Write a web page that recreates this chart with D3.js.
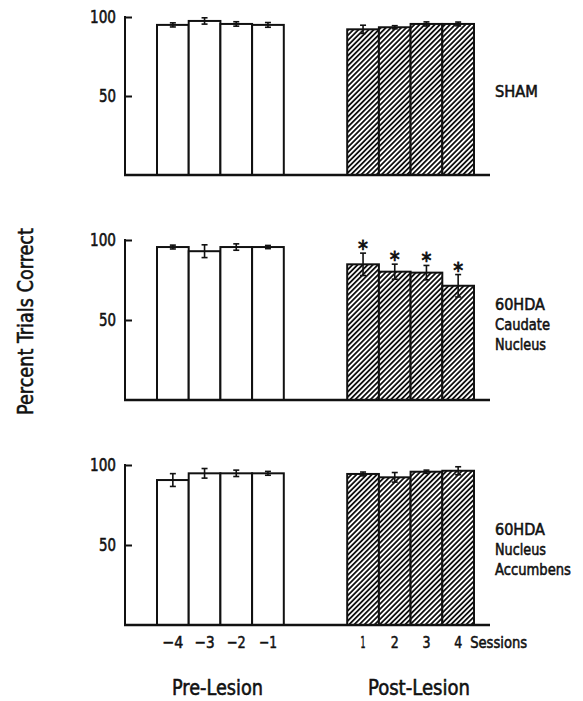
<!DOCTYPE html>
<html>
<head>
<meta charset="utf-8">
<script src="https://cdn.jsdelivr.net/npm/d3@7"></script>
<style>
  html, body { margin: 0; padding: 0; background: #fff; }
  svg text { font-family: "DejaVu Sans Condensed", "Liberation Sans", sans-serif; fill: #111; stroke: #111; stroke-width: 0.55px; }
</style>
</head>
<body>
<div id="chart"></div>
<script>
// sessions on the x axis (two empty slots between pre and post)
const preSessions = ["−4", "−3", "−2", "−1"];
const postSessions = ["1", "2", "3", "4"];
const gapSlots = ["gap1", "gap2"];

const groupLabelLines = [["SHAM"], ["60HDA", "Caudate", "Nucleus"], ["60HDA", "Nucleus", "Accumbens"]];

// percent trials correct, mean and error
const shamPre = [95, 97.5, 95.6, 95];
const shamPreErr = [1.3, 2, 1.4, 1.5];
const shamPost = [92.2, 93.5, 95.6, 95.6];
const shamPostErr = [2.6, 1, 1.3, 1.2];

const caudatePre = [95.6, 93, 95.6, 95.6];
const caudatePreErr = [1.2, 4, 2, 1];
const caudatePost = [84.8, 80.2, 79.6, 71.4];
const caudatePostErr = [7, 4.7, 4.5, 7];
const caudateStars = [true, true, true, true];

const accPre = [90.6, 94.8, 94.8, 94.8];
const accPreErr = [4, 3, 2, 1.2];
const accPost = [94.4, 92.3, 95.8, 96.4];
const accPostErr = [1.2, 3, 1, 2.5];

const yTicks = [50, 100];

const panels = [
  { pre: shamPre, preErr: shamPreErr, post: shamPost, postErr: shamPostErr, stars: null },
  { pre: caudatePre, preErr: caudatePreErr, post: caudatePost, postErr: caudatePostErr, stars: caudateStars },
  { pre: accPre, preErr: accPreErr, post: accPost, postErr: accPostErr, stars: null }
];

const width = 583, height = 701;
const svg = d3.select("#chart").append("svg").attr("width", width).attr("height", height);

// the original face is a narrow grotesque: squeeze each text horizontally to its width
function fit(sel, w, base) {
  const node = sel.node();
  const tx = +sel.attr("x") || 0;
  const ty = +sel.attr("y") || 0;
  const sx = Math.min(1, w / node.getComputedTextLength());
  sel.attr("x", 0).attr("y", 0)
    .attr("transform", `${base || ""} translate(${tx},${ty}) scale(${sx},1)`);
}
const labelWidth = { "SHAM": 43, "60HDA": 50, "Caudate": 55, "Nucleus": 51, "Accumbens": 76 };
const tickWidth = { "100": 26, "50": 17, "−4": 21, "−3": 20, "−2": 19, "−1": 18, "1": 5, "2": 8, "3": 8, "4": 8 };

// hatch for post-lesion bars
const defs = svg.append("defs");
const pat = defs.append("pattern")
  .attr("id", "hatch")
  .attr("patternUnits", "userSpaceOnUse")
  .attr("width", 3.6).attr("height", 8)
  .attr("patternTransform", "rotate(45)");
pat.append("rect").attr("width", 3.6).attr("height", 8).attr("fill", "#fff");
pat.append("line").attr("x1", 0.9).attr("x2", 0.9).attr("y1", 0).attr("y2", 8)
  .attr("stroke", "#111").attr("stroke-width", 1.8);

const axisX = 125, baseRight = 490;
const x = d3.scaleBand()
  .domain([...preSessions, ...gapSlots, ...postSessions])
  .range([157, 474])
  .padding(0);

const panelBase = [175, 400, 625];
const panelTop = [17, 240, 465];

panels.forEach((p, i) => {
  const y = d3.scaleLinear().domain([0, 100]).range([panelBase[i], panelTop[i]]);
  const g = svg.append("g");

  const rows = [
    ...preSessions.map((s, k) => ({ s, v: p.pre[k], e: p.preErr[k], post: false, star: false })),
    ...postSessions.map((s, k) => ({ s, v: p.post[k], e: p.postErr[k], post: true, star: p.stars ? p.stars[k] : false }))
  ];

  g.selectAll("rect.bar")
    .data(rows)
    .enter().append("rect")
    .attr("class", "bar")
    .attr("x", d => x(d.s))
    .attr("y", d => y(d.v))
    .attr("width", x.bandwidth())
    .attr("height", d => y(0) - y(d.v))
    .attr("fill", d => d.post ? "url(#hatch)" : "#fff")
    .attr("stroke", "#111")
    .attr("stroke-width", 2);

  // error bars
  const cx = d => x(d.s) + x.bandwidth() / 2;
  const eb = g.selectAll("g.err").data(rows).enter().append("g").attr("class", "err")
    .attr("stroke", "#111").attr("stroke-width", 1.6);
  eb.append("line")
    .attr("x1", cx).attr("x2", cx)
    .attr("y1", d => y(d.v + d.e)).attr("y2", d => y(d.v - d.e));
  eb.append("line")
    .attr("x1", d => cx(d) - 3).attr("x2", d => cx(d) + 3)
    .attr("y1", d => y(d.v + d.e)).attr("y2", d => y(d.v + d.e));
  eb.append("line")
    .attr("x1", d => cx(d) - 3).attr("x2", d => cx(d) + 3)
    .attr("y1", d => y(d.v - d.e)).attr("y2", d => y(d.v - d.e));

  g.selectAll("text.star")
    .data(rows.filter(d => d.star))
    .enter().append("text")
    .attr("class", "star")
    .attr("x", cx)
    .attr("y", d => y(d.v + d.e) + 3)
    .attr("text-anchor", "middle")
    .style("font-size", "22px")
    .style("stroke-width", "0.8px")
    .text("*");

  // y axis with inward ticks
  const yAxis = d3.axisLeft(y).tickValues(yTicks).tickSize(-7).tickPadding(9);
  const ag = g.append("g").attr("transform", `translate(${axisX},0)`).call(yAxis);
  ag.select(".domain").remove();
  ag.selectAll(".tick line").attr("stroke", "#111").attr("stroke-width", 2);
  ag.selectAll(".tick text")
    .style("font-size", "17px")
    .attr("fill", "#111")
    .each(function(d) { fit(d3.select(this), tickWidth[String(d)]); });
  g.append("line")
    .attr("x1", axisX).attr("x2", axisX)
    .attr("y1", y(100) - 1).attr("y2", y(0))
    .attr("stroke", "#111").attr("stroke-width", 2);
  g.append("line")
    .attr("x1", axisX - 1).attr("x2", baseRight)
    .attr("y1", y(0)).attr("y2", y(0))
    .attr("stroke", "#111").attr("stroke-width", 2.4);

  // group label
  const y0 = y(0) - (i === 0 ? 78 : 90);
  groupLabelLines[i].forEach((t, k) => {
    g.append("text")
      .attr("x", 495)
      .attr("y", y0 + k * 20)
      .style("font-size", "16.5px")
      .text(t)
      .call(fit, labelWidth[t]);
  });
});

// session tick labels under the bottom panel
const xAxis = d3.axisBottom(x).tickValues([...preSessions, ...postSessions]).tickSize(0).tickPadding(11);
const xg = svg.append("g").attr("transform", `translate(0,${panelBase[2]})`).call(xAxis);
xg.select(".domain").remove();
xg.selectAll(".tick text")
  .style("font-size", "16.5px")
  .attr("fill", "#111")
  .each(function(d) { fit(d3.select(this), tickWidth[d]); });

svg.append("text")
  .attr("x", x("4") + x.bandwidth() / 2 + 12)
  .attr("y", 648)
  .style("font-size", "16.5px")
  .text("Sessions")
  .call(fit, 57);

svg.append("text")
  .attr("x", 172)
  .attr("y", 695)
  .style("font-size", "21px")
  .text("Pre-Lesion")
  .call(fit, 91);

svg.append("text")
  .attr("x", 368)
  .attr("y", 695)
  .style("font-size", "21px")
  .text("Post-Lesion")
  .call(fit, 102);

svg.append("text")
  .style("font-size", "21px")
  .text("Percent Trials Correct")
  .call(fit, 187, "translate(33,415) rotate(-90)");
</script>
</body>
</html>
